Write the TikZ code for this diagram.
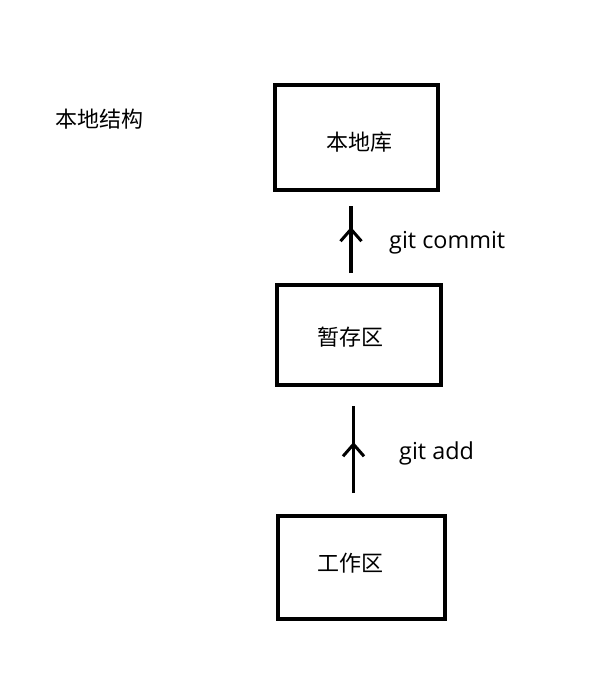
\documentclass[tikz,border=0pt]{standalone}
\usepackage{fontspec}
\setmainfont{Open Sans}
\newfontfamily\cjk{Noto Sans CJK SC}
\usetikzlibrary{calc, arrows.meta, decorations.markings}
\tikzset{
  zone_b/.style = {rectangle, draw=black, line width=3.8pt, inner sep=0pt},% boite
  zone_t/.style = {inner sep=0pt, font=\cjk\fontsize{22}{26}\selectfont},% texte chinois
  cmd_t/.style = {inner sep=0pt, anchor=base west,
    font=\fontsize{23.4}{27}\selectfont},% commande git
  flow_a/.style = {line width=3.5pt, postaction={decorate},
    decoration={markings, mark=at position #1 with
      {\arrow{Straight Barb[length=12pt, width=21pt, line width=3pt]}}}}% fleche
}
\begin{document}
\begin{tikzpicture}[x=1pt, y=-1pt]

\path[fill=white, use as bounding box] (0,0) rectangle (592,698);

\node[zone_t] (t0) at (99,119) {本地结构};

\node[zone_b, minimum width=163pt, minimum height=105pt] (b1) at (356.5,137.5) {};
\node[zone_b, minimum width=164pt, minimum height=100pt] (b2) at (359,335) {};
\node[zone_b, minimum width=167pt, minimum height=103pt] (b3) at (361.5,567.5) {};

\node[zone_t] (t1) at (359,142) {本地库};
\node[zone_t] (t2) at (350,337) {暂存区};
\node[zone_t] (t3) at (350,563) {工作区};

\coordinate (c1s) at ($(b2.north)+(-8,-10)$);
\coordinate (c1e) at ($(b1.south)+(-5.5,14)$);
\coordinate (c2s) at ($(b3.north)+(-8,-21)$);
\coordinate (c2e) at ($(b2.south)+(-5.5,19)$);

\draw[flow_a=0.687] (c1s) -- (c1e);
\draw[flow_a=0.586] (c2s) -- (c2e);

\node[cmd_t] (g1) at (389,248) {git commit};
\node[cmd_t] (g2) at (399,459) {git add};
%\draw[->] (t3) to (t2);
\end{tikzpicture}
\end{document}
